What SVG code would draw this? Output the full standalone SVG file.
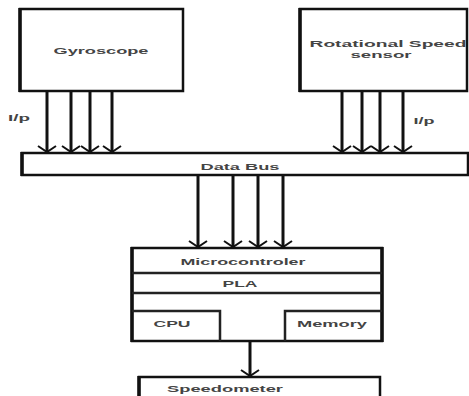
<svg xmlns="http://www.w3.org/2000/svg" width="469" height="396" viewBox="0 0 469 396">
<defs>
<marker id="ah" viewBox="-8 -11 10 22" refX="0" refY="0" markerWidth="10" markerHeight="22" markerUnits="userSpaceOnUse" orient="auto">
<path d="M-6,-9 L0,0 L-6,9" fill="none" stroke="#111" stroke-width="2"/>
</marker>
<style>
.box{fill:#fff;stroke:#111;stroke-width:2.5}
.edge{stroke:#111;stroke-width:3.5;fill:none}
.div{stroke:#222;stroke-width:2.5;fill:none}
.t{font-family:"Liberation Sans",Arial,sans-serif;font-weight:bold;font-size:9.5px;fill:#444;text-anchor:middle;dominant-baseline:central}
.arr{stroke:#111;stroke-width:3;fill:none;marker-end:url(#ah)}
</style>
</defs>
<rect width="469" height="396" fill="#fff"/>
<g id="gyroscope">
<rect class="box" x="20" y="9" width="163" height="82"/>
<line class="edge" x1="20" y1="8" x2="20" y2="92"/>
<text class="t" x="101" y="50" textLength="95" lengthAdjust="spacingAndGlyphs">Gyroscope</text>
</g>
<g id="rotational-speed-sensor">
<rect class="box" x="300" y="9" width="167" height="82"/>
<line class="edge" x1="300" y1="8" x2="300" y2="92"/>
<text class="t" x="388" y="43" textLength="157" lengthAdjust="spacingAndGlyphs">Rotational Speed</text>
<text class="t" x="381" y="54" textLength="61" lengthAdjust="spacingAndGlyphs">sensor</text>
</g>
<g id="data-bus">
<rect class="box" x="22" y="153" width="446" height="22"/>
<line class="edge" x1="22" y1="152" x2="22" y2="176"/>
<text class="t" x="240" y="166" textLength="79" lengthAdjust="spacingAndGlyphs">Data Bus</text>
</g>
<g id="microcontroller">
<rect class="box" x="132" y="248" width="250" height="93"/>
<line class="edge" x1="132" y1="247" x2="132" y2="342"/>
<line class="edge" x1="382" y1="247" x2="382" y2="342"/>
<line class="div" x1="132" y1="273" x2="382" y2="273"/>
<text class="t" x="243" y="261" textLength="125" lengthAdjust="spacingAndGlyphs">Microcontroler</text>
</g>
<g id="pla">
<line class="div" x1="132" y1="293" x2="382" y2="293"/>
<text class="t" x="240" y="283" textLength="35" lengthAdjust="spacingAndGlyphs">PLA</text>
</g>
<g id="cpu">
<path class="div" d="M132,311 H220 V341"/>
<text class="t" x="172" y="323" textLength="37" lengthAdjust="spacingAndGlyphs">CPU</text>
</g>
<g id="memory">
<path class="div" d="M382,311 H285 V341"/>
<text class="t" x="332" y="323" textLength="70" lengthAdjust="spacingAndGlyphs">Memory</text>
</g>
<g id="speedometer">
<rect class="box" x="139" y="377" width="241" height="30"/>
<line class="edge" x1="139" y1="376" x2="139" y2="397"/>
<text class="t" x="225" y="388" textLength="116" lengthAdjust="spacingAndGlyphs">Speedometer</text>
</g>
<g id="connectors">
<line class="arr" x1="47" y1="91" x2="47" y2="152"/>
<line class="arr" x1="71" y1="91" x2="71" y2="152"/>
<line class="arr" x1="90" y1="91" x2="90" y2="152"/>
<line class="arr" x1="112" y1="91" x2="112" y2="152"/>
<line class="arr" x1="342" y1="91" x2="342" y2="152"/>
<line class="arr" x1="362" y1="91" x2="362" y2="152"/>
<line class="arr" x1="380" y1="91" x2="380" y2="152"/>
<line class="arr" x1="403" y1="91" x2="403" y2="152"/>
<line class="arr" x1="198" y1="175" x2="198" y2="247"/>
<line class="arr" x1="233" y1="175" x2="233" y2="247"/>
<line class="arr" x1="258" y1="175" x2="258" y2="247"/>
<line class="arr" x1="283" y1="175" x2="283" y2="247"/>
<line class="arr" x1="250" y1="341" x2="250" y2="376"/>
<text class="t" x="19" y="117" textLength="22" lengthAdjust="spacingAndGlyphs">I/p</text>
<text class="t" x="424" y="120" textLength="21" lengthAdjust="spacingAndGlyphs">I/p</text>
</g>
</svg>
